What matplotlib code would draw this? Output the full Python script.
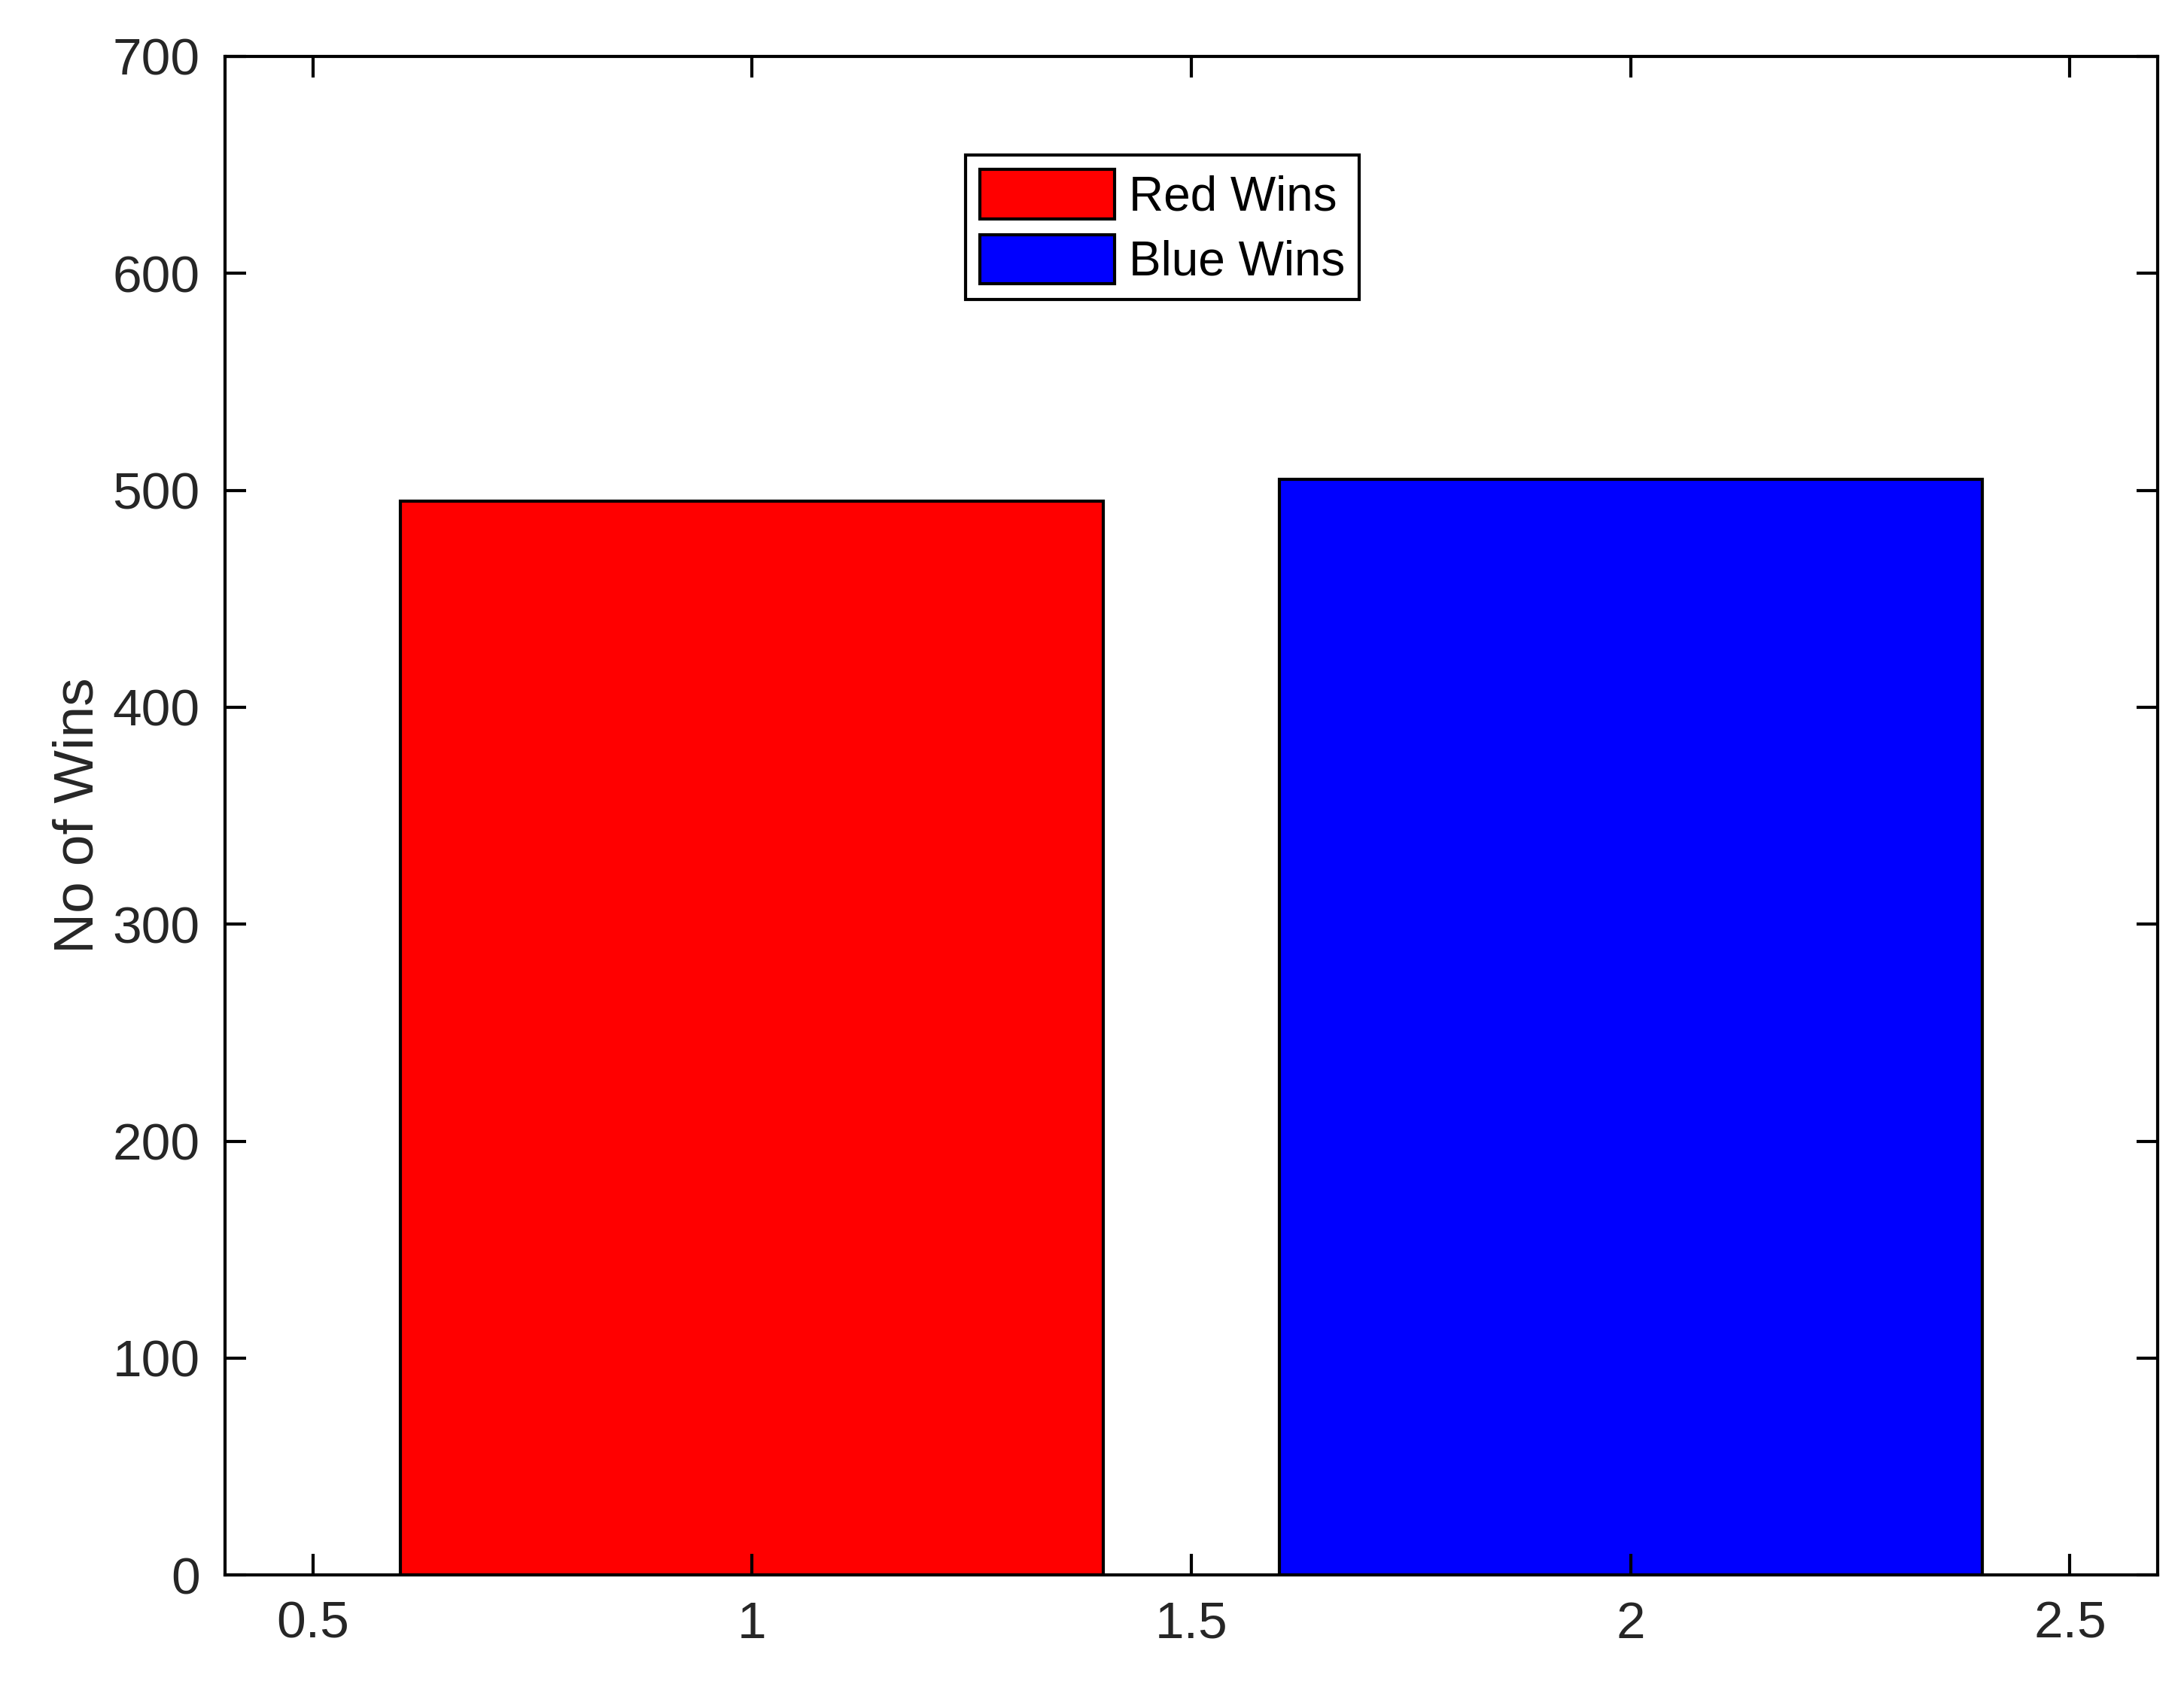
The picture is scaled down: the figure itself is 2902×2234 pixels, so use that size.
import matplotlib
matplotlib.use("Agg")
import matplotlib.pyplot as plt

plt.rcParams['font.family'] = ['Liberation Sans', 'DejaVu Sans']

positions = [1, 2]
wins = [495, 505]
labels = ["Red Wins", "Blue Wins"]
colors = ["#ff0000", "#0000ff"]
xticks = [0.5, 1, 1.5, 2, 2.5]
xticklabels = ["0.5", "1", "1.5", "2", "2.5"]
yticks = [0, 100, 200, 300, 400, 500, 600, 700]

fig = plt.figure(figsize=(14.51, 11.17), dpi=200)
ax = fig.add_axes([0.103, 0.063, 0.885, 0.9035])
for p, w, l, c in zip(positions, wins, labels, colors):
    ax.bar(p, w, width=0.8, color=c, edgecolor="black", linewidth=1.5, label=l)
ax.set_xlim(0.4, 2.6)
ax.set_ylim(0, 700)
ax.set_xticks(xticks)
ax.set_xticklabels(xticklabels)
ax.set_yticks(yticks)
ax.tick_params(direction="in", top=True, right=True, length=10, width=1.5,
               labelsize=25, labelcolor="#262626", pad=12)
for s in ax.spines.values():
    s.set_linewidth(1.5)
ax.set_ylabel("No of Wins", fontsize=27, color="#262626")
leg = ax.legend(loc="upper center", bbox_to_anchor=(0.485, 0.935), fontsize=23,
                fancybox=False, edgecolor="black", framealpha=1,
                handlelength=2.8, handleheight=1.2, borderpad=0.3, labelspacing=0.3,
                handletextpad=0.3, borderaxespad=0)
leg.get_frame().set_linewidth(1.5)
fig.savefig("out.png", dpi=200)
